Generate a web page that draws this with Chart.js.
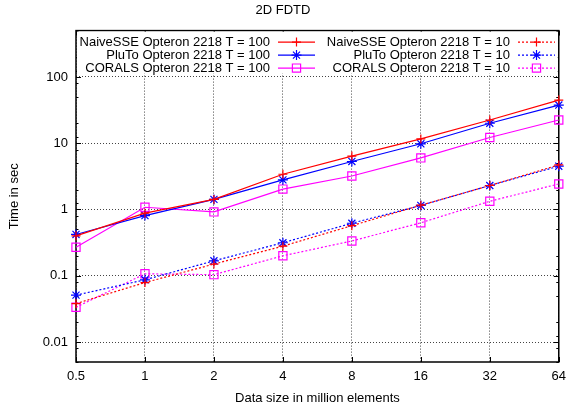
<!DOCTYPE html>
<html lang="en">
<head>
<meta charset="UTF-8">
<title>2D FDTD</title>
<style>
  body { margin: 0; background: #fff; }
  #wrap { width: 573px; height: 406px; }
</style>
</head>
<body>
<div id="wrap"><canvas id="grafico" width="573" height="406"></canvas></div>
<script src="https://cdn.jsdelivr.net/npm/chart.js@4"></script>
<script>
// tamanhos (milhoes de elementos) - eixo x em log2
const sizes = ['0.5', '1', '2', '4', '8', '16', '32', '64'];
const yTicks = [0.01, 0.1, 1, 10, 100];
const yMinorMult = [1.25, 2, 5, 8];

// tempos em segundos
const naive100  = [0.40, 0.88, 1.42, 3.4, 6.4, 11.6, 22.4, 44.7];
const pluto100  = [0.42, 0.81, 1.42, 2.8, 5.3, 9.8, 20, 37.6];
const corals100 = [0.27, 1.08, 0.92, 2.03, 3.2, 6.0, 12.2, 22.4];
const naive10   = [0.038, 0.079, 0.15, 0.28, 0.57, 1.16, 2.3, 4.7];
const pluto10   = [0.051, 0.087, 0.168, 0.315, 0.62, 1.15, 2.3, 4.5];
const corals10  = [0.0335, 0.107, 0.104, 0.2, 0.335, 0.63, 1.33, 2.43];

const legenda = [
  'NaiveSSE Opteron 2218 T = 100',
  'PluTo Opteron 2218 T = 100',
  'CORALS Opteron 2218 T = 100',
  'NaiveSSE Opteron 2218 T = 10',
  'PluTo Opteron 2218 T = 10',
  'CORALS Opteron 2218 T = 10'
];

const fonte = { family: '"Liberation Sans", Arial, sans-serif', size: 13 };
Chart.defaults.font.family = fonte.family;
Chart.defaults.font.size = 13;
Chart.defaults.color = '#000';

function serie(label, data, cor, estilo, raio, tracejado) {
  return {
    label: label,
    data: data,
    borderColor: cor,
    backgroundColor: 'rgba(0,0,0,0)',
    borderWidth: 1.2,
    borderDash: tracejado ? [2, 2] : [],
    pointStyle: estilo,
    pointRadius: raio,
    pointBorderWidth: 1.2,
    pointBackgroundColor: 'rgba(0,0,0,0)',
    tension: 0
  };
}

// moldura e ticks para dentro (estilo gnuplot)
const moldura = {
  id: 'moldura',
  beforeDatasetsDraw(chart) {
    const { ctx, chartArea: a, scales: { x, y } } = chart;
    ctx.save();
    ctx.strokeStyle = '#000';
    ctx.lineWidth = 1;
    ctx.beginPath();
    sizes.forEach((s, i) => {
      const px = Math.round(x.getPixelForValue(i)) + 0.5;
      ctx.moveTo(px, a.bottom); ctx.lineTo(px, a.bottom - 5);
      ctx.moveTo(px, a.top); ctx.lineTo(px, a.top + 5);
    });
    yTicks.concat([0.001]).forEach(base => {
      [1].concat(yMinorMult).forEach(m => {
        const v = base * m;
        if (v < y.min || v > y.max) return;
        const py = Math.round(y.getPixelForValue(v)) + 0.5;
        const len = m === 1 ? 5 : 2.5;
        ctx.moveTo(a.left, py); ctx.lineTo(a.left + len, py);
        ctx.moveTo(a.right, py); ctx.lineTo(a.right - len, py);
      });
    });
    ctx.stroke();
    ctx.lineWidth = 1.5;
    ctx.strokeRect(a.left, a.top, a.right - a.left, a.bottom - a.top);
    ctx.restore();
  }
};

// legenda em duas colunas, texto a direita da amostra
const legendaGnuplot = {
  id: 'legendaGnuplot',
  afterDatasetsDraw(chart) {
    const { ctx, chartArea: a } = chart;
    ctx.save();
    ctx.fillStyle = '#fff';
    ctx.fillRect(a.left + 1, a.top + 1, a.right - a.left - 2, 42);
    ctx.font = fonte.size + 'px ' + fonte.family;
    ctx.textAlign = 'right';
    ctx.textBaseline = 'middle';
    chart.data.datasets.forEach((ds, i) => {
      const col = Math.floor(i / 3), row = i % 3;
      const textRight = a.left + 194 + col * 240;
      const yy = a.top + 11.5 + row * 13;
      const x0 = textRight + 8, x1 = textRight + 45;
      ctx.fillStyle = '#000';
      ctx.fillText(ds.label, textRight, yy);
      ctx.strokeStyle = ds.borderColor;
      ctx.lineWidth = ds.borderWidth;
      ctx.setLineDash(ds.borderDash);
      ctx.beginPath();
      ctx.moveTo(x0, yy); ctx.lineTo(x1, yy);
      ctx.stroke();
      ctx.setLineDash([]);
      ctx.fillStyle = 'rgba(0,0,0,0)';
      Chart.helpers.drawPoint(ctx, {
        pointStyle: ds.pointStyle, radius: ds.pointRadius,
        borderWidth: ds.pointBorderWidth, rotation: 0
      }, (x0 + x1) / 2, yy);
    });
    ctx.restore();
  }
};

const gridOpts = { color: '#444', lineWidth: 1, drawTicks: false, borderDash: [1, 2] };

new Chart(document.getElementById('grafico'), {
  type: 'line',
  data: {
    labels: sizes,
    datasets: [
      serie(legenda[0], naive100, '#ff0000', 'cross', 4.5, false),
      serie(legenda[1], pluto100, '#0000ff', 'star', 5, false),
      serie(legenda[2], corals100, '#ff00ff', 'rect', 5.8, false),
      serie(legenda[3], naive10, '#ff0000', 'cross', 4.5, true),
      serie(legenda[4], pluto10, '#0000ff', 'star', 5, true),
      serie(legenda[5], corals10, '#ff00ff', 'rect', 5.8, true)
    ]
  },
  options: {
    responsive: false,
    animation: false,
    layout: { padding: { left: 0, right: 7, top: 0, bottom: 0 } },
    scales: {
      x: {
        type: 'category',
        offset: false,
        grid: gridOpts,
        border: { display: false, dash: [1, 2] },
        ticks: { color: '#000', font: fonte, padding: 7, maxRotation: 0, autoSkip: false },
        title: { display: true, text: 'Data size in million elements', color: '#000', font: fonte, padding: { top: 2, bottom: 0 } },
        afterFit(s) { s.height = 44; }
      },
      y: {
        type: 'logarithmic',
        min: 0.005,
        max: 500,
        bounds: 'data',
        grid: gridOpts,
        border: { display: false, dash: [1, 2] },
        afterBuildTicks(s) { s.ticks = yTicks.map(v => ({ value: v })); },
        ticks: { color: '#000', font: fonte, padding: 8, callback: v => String(v) },
        title: { display: true, text: 'Time in sec', color: '#000', font: fonte, padding: { top: 7, bottom: 0 } },
        afterFit(s) { s.width = 76; }
      }
    },
    plugins: {
      legend: { display: false },
      tooltip: { enabled: false },
      title: {
        display: true,
        text: '2D FDTD',
        color: '#000',
        font: { size: 13, weight: 'normal' },
        padding: { top: 3, bottom: 12 }
      }
    }
  },
  plugins: [moldura, legendaGnuplot]
});
</script>
</body>
</html>
